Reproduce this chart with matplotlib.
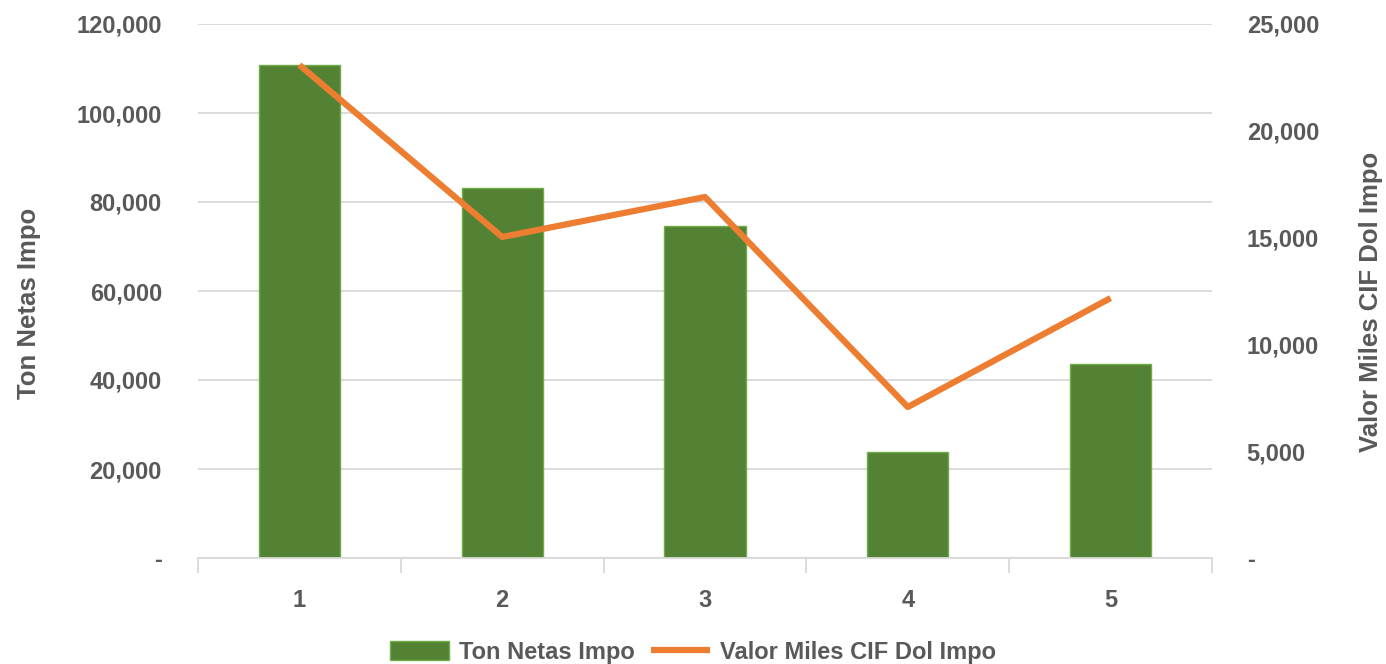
import matplotlib.pyplot as plt
import numpy as np
from matplotlib.ticker import FuncFormatter

plt.rcParams['font.family'] = ['Liberation Sans', 'DejaVu Sans']
plt.rcParams['font.weight'] = 'bold'

# data
categories = ['1', '2', '3', '4', '5']
ton_netas = [110800, 83100, 74600, 23800, 43600]
valor_cif = [23080, 15030, 16900, 7070, 12170]

gray = '#595959'
green = '#548235'
orange = '#ED7D31'

fig = plt.figure(figsize=(13.86, 6.64), dpi=100)
ax = fig.add_axes([198 / 1386, 1 - 558 / 664, 1014 / 1386, 534 / 664])
ax2 = ax.twinx()

x = np.arange(len(categories))
bars = ax.bar(x, ton_netas, width=0.40, color=green, edgecolor='#70AD47',
              linewidth=1, label='Ton Netas Impo', zorder=2)
line, = ax2.plot(x, valor_cif, color=orange, linewidth=4.5,
                 solid_capstyle='butt', label='Valor Miles CIF Dol Impo')

def fmt(v, pos):
    return '-' if v == 0 else f'{v:,.0f}'

ax.set_xlim(-0.5, 4.5)
ax.set_ylim(0, 120000)
ax.set_yticks(np.arange(0, 120001, 20000))
ax.yaxis.set_major_formatter(FuncFormatter(fmt))
ax2.set_ylim(0, 25000)
ax2.set_yticks(np.arange(0, 25001, 5000))
ax2.yaxis.set_major_formatter(FuncFormatter(fmt))

ax.grid(axis='y', color='#D9D9D9', linewidth=1.3, zorder=0)
ax.set_axisbelow(True)

for a in (ax, ax2):
    for s in a.spines.values():
        s.set_visible(False)
ax.spines['bottom'].set_visible(True)
ax.spines['bottom'].set_color('#D9D9D9')
ax.spines['bottom'].set_linewidth(1.3)

# category tick labels at centers, tick marks at boundaries
ax.set_xticks(x)
ax.set_xticklabels(categories)
ax.set_xticks(np.arange(-0.5, 5, 1), minor=True)
ax.tick_params(axis='x', which='major', length=0, pad=22, labelsize=17, labelcolor=gray)
ax.tick_params(axis='x', which='minor', length=11, width=1.3, color='#D9D9D9')
ax.tick_params(axis='y', length=0, pad=26, labelsize=17, labelcolor=gray)
ax2.tick_params(axis='y', length=0, pad=25, labelsize=17, labelcolor=gray)

ax.set_ylabel('Ton Netas Impo', fontsize=18.5, color=gray, fontweight='bold')
ax2.set_ylabel('Valor Miles CIF Dol Impo', fontsize=18.5, color=gray, fontweight='bold')
ax.yaxis.set_label_coords(-0.155, 0.477)
ax2.yaxis.set_label_coords(1.145, 0.48)

fig.legend(handles=[bars, line], loc='center', bbox_to_anchor=(0.5, 12 / 664),
           ncol=2, frameon=False, fontsize=17, labelcolor=gray,
           handlelength=2.5, handleheight=0.9, columnspacing=0.7, handletextpad=0.4)

fig.savefig('out.png', dpi=100)
